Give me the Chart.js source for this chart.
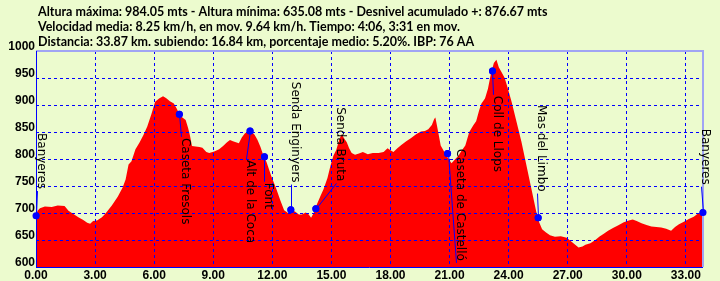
<!DOCTYPE html>
<html>
<head>
<meta charset="utf-8">
<script src="https://cdn.jsdelivr.net/npm/chart.js@4.4.1/dist/chart.umd.min.js"></script>
<style>
html, body { margin: 0; padding: 0; background: #ecfbce; }
#wrap { width: 720px; height: 281px; }
</style>
</head>
<body>
<div id="wrap"><canvas id="profile" width="720" height="281"></canvas></div>
<script>
// PROFILE DATA (km, metres)
const distKm = [0.00, 0.08, 0.20, 0.45, 0.80, 1.10, 1.45, 1.65, 1.90, 2.15, 2.40, 2.60, 2.75, 2.90, 3.10, 3.35, 3.55, 3.85,
  4.15, 4.40, 4.55, 4.70, 4.85, 5.05, 5.25, 5.45, 5.65, 5.85, 6.05, 6.25, 6.45, 6.60, 6.80, 7.00, 7.15, 7.25, 7.40, 7.60,
  7.72, 7.82, 7.92, 8.10, 8.30, 8.45, 8.65, 8.80, 9.05, 9.30, 9.50, 9.70, 9.85, 10.00, 10.15, 10.30, 10.45, 10.60, 10.80,
  10.95, 11.10, 11.25, 11.40, 11.55, 11.70, 11.95, 12.20, 12.40, 12.60, 12.80, 13.00, 13.15, 13.35, 13.50, 13.70, 13.85,
  13.97, 14.10, 14.25, 14.45, 14.60, 14.80, 14.95, 15.10, 15.25, 15.40, 15.52, 15.65, 15.78, 15.90, 16.03, 16.20, 16.40,
  16.60, 16.85, 17.10, 17.40, 17.65, 17.85, 18.00, 18.15, 18.35, 18.55, 18.80, 19.05, 19.30, 19.55, 19.75, 19.92, 20.10,
  20.22, 20.28, 20.35, 20.45, 20.55, 20.75, 20.95, 21.10, 21.25, 21.45, 21.60, 21.80, 22.00, 22.20, 22.35, 22.50, 22.62,
  22.80, 22.95, 23.10, 23.25, 23.38, 23.50, 23.65, 23.80, 23.95, 24.15, 24.40, 24.65, 24.90, 25.15, 25.40, 25.55, 25.70,
  25.90, 26.10, 26.35, 26.65, 26.95, 27.15, 27.35, 27.55, 27.75, 27.90, 28.15, 28.40, 28.60, 28.85, 29.05, 29.30, 29.55,
  29.85, 30.10, 30.30, 30.50, 30.75, 31.00, 31.25, 31.50, 31.75, 32.00, 32.25, 32.45, 32.65, 32.90, 33.15, 33.40, 33.65, 33.87];
const elevM = [695, 704, 709, 712, 711, 714, 713, 704, 698, 692, 687, 682, 680, 685, 686, 692, 700, 714,
  730, 747, 762, 790, 796, 818, 830, 844, 860, 882, 906, 912, 916, 913, 907, 903, 893, 885, 878, 872,
  858, 843, 824, 823, 822, 821, 813, 811, 814, 818, 824, 831, 835, 833, 831, 829, 840, 847, 852,
  851, 845, 835, 822, 806, 795, 768, 745, 724, 705, 700, 705, 703, 697, 697, 701, 697,
  691, 700, 715, 732, 744, 765, 787, 806, 817, 836, 846, 838, 831, 820, 811, 808, 810,
  813, 809, 811, 811, 813, 820, 816, 813, 820, 826, 833, 839, 846, 851, 852, 855, 863,
  874, 877, 864, 845, 825, 812, 800, 792, 798, 806, 815, 825, 850, 862, 870, 890, 903,
  912, 930, 958, 978, 984, 970, 960, 950, 932, 906, 869, 832, 789, 746, 703, 683, 670,
  664, 659, 656, 657, 654, 648, 642, 636, 638, 641, 644, 650, 656, 662, 667, 672, 677,
  683, 686, 688, 685, 681, 678, 675, 674, 673, 671, 667, 674, 679, 684, 689, 693, 700, 701];

const xTicks = [0, 3, 6, 9, 12, 15, 18, 21, 24, 27, 30, 33];
const yTicks = [600, 650, 700, 750, 800, 850, 900, 950, 1000];

// WAYPOINTS
const wpNames = ["Banyeres", "Caseta Fresols", "Alt de la Coca", "Font", "Senda Enginyers", "Senda Bruta",
  "Caseta de Castelló", "Coll de Llops", "Mas del Limbo", "Banyeres"];
const wpKm = [0.00, 7.28, 10.87, 11.60, 12.94, 14.21, 20.90, 23.18, 25.50, 33.87];
const wpElev = [695, 883, 852, 804, 706, 708, 810, 963, 691, 701];
// where each vertical label starts (data units)
const wpLabelKm = [0.05, 7.34, 10.66, 11.60, 12.94, 15.23, 21.32, 23.20, 25.46, 33.76];
const wpLabelElev = [848, 839, 798, 756, 943, 896, 819, 917, 900, 856];

const infoLines = [
  "Altura máxima: 984.05 mts - Altura mínima: 635.08 mts - Desnivel acumulado +: 876.67 mts",
  "Velocidad media: 8.25 km/h, en mov. 9.64 km/h. Tiempo: 4:06, 3:31 en mov.",
  "Distancia: 33.87 km. subiendo: 16.84 km, porcentaje medio: 5.20%. IBP: 76 AA"
];

const BG = "#ecfbce";
const BLUE = "#0000ff";
const tickFont = { family: "'Liberation Sans Narrow', 'Liberation Sans', Arial, sans-serif", size: 12, weight: "bold" };

// PLUGINS
const background = {
  id: "background",
  beforeDraw(chart) {
    const ctx = chart.ctx;
    ctx.save();
    ctx.fillStyle = BG;
    ctx.fillRect(0, 0, chart.width, chart.height);
    ctx.restore();
  }
};

const overlay = {
  id: "overlay",
  afterDraw(chart) {
    const ctx = chart.ctx;
    const xs = chart.scales.x, ys = chart.scales.y;
    const area = chart.chartArea;
    ctx.save();

    // top / right frame
    ctx.strokeStyle = "#a0a4f4";
    ctx.lineWidth = 2;
    ctx.beginPath();
    ctx.moveTo(area.left, area.top);
    ctx.lineTo(area.right, area.top);
    ctx.lineTo(area.right, area.bottom);
    ctx.stroke();

    // left / bottom axis lines
    ctx.strokeStyle = BLUE;
    ctx.lineWidth = 1;
    ctx.beginPath();
    ctx.moveTo(area.left + 0.5, area.top);
    ctx.lineTo(area.left + 0.5, area.bottom + 0.5);
    ctx.lineTo(area.right, area.bottom + 0.5);
    ctx.stroke();

    // header text
    ctx.fillStyle = "#000";
    ctx.font = "bold 12.5px Lato, 'DejaVu Sans', sans-serif";
    ctx.textAlign = "left";
    ctx.textBaseline = "alphabetic";
    infoLines.forEach((t, i) => ctx.fillText(t, 38, 16 + i * 15));

    // waypoint labels + connectors
    ctx.font = "12px 'DejaVu Sans', sans-serif";
    for (let i = 0; i < wpNames.length; i++) {
      const px = xs.getPixelForValue(wpKm[i]);
      const py = ys.getPixelForValue(wpElev[i]);
      const lx = xs.getPixelForValue(wpLabelKm[i]);
      const ly = ys.getPixelForValue(wpLabelElev[i]);
      const w = ctx.measureText(wpNames[i]).width;
      const endY = ly > py ? ly - 1 : ly + w + 2;

      ctx.strokeStyle = BLUE;
      ctx.lineWidth = 1;
      ctx.beginPath();
      ctx.moveTo(Math.round(px) + 0.5, py);
      ctx.lineTo(Math.round(lx) + 0.5, endY);
      ctx.stroke();

      ctx.save();
      ctx.translate(Math.round(lx) + 1, ly);
      ctx.rotate(Math.PI / 2);
      ctx.fillStyle = "#000";
      ctx.fillText(wpNames[i], 0, 0);
      ctx.restore();
    }

    // waypoint dots back on top of the grid
    chart.getDatasetMeta(1).data.forEach(pt => pt.draw(ctx, area));
    ctx.restore();
  }
};

// CHART
const ctx = document.getElementById("profile").getContext("2d");

const chart = new Chart(ctx, {
  type: "line",
  data: {
    datasets: [
      {
        label: "Perfil",
        data: distKm.map((d, i) => ({ x: d, y: elevM[i] })),
        backgroundColor: "#ff0000",
        borderWidth: 0,
        pointRadius: 0,
        fill: "start",
        tension: 0,
        order: 2
      },
      {
        type: "scatter",
        label: "Puntos",
        data: wpKm.map((d, i) => ({ x: d, y: wpElev[i] })),
        backgroundColor: BLUE,
        borderColor: BLUE,
        pointRadius: 3.5,
        borderWidth: 0,
        order: 1
      }
    ]
  },
  options: {
    responsive: false,
    animation: false,
    devicePixelRatio: 1,
    layout: { padding: { top: 51, right: 17, left: 0, bottom: 0 } },
    plugins: { legend: { display: false }, tooltip: { enabled: false }, title: { display: false } },
    scales: {
      x: {
        type: "linear",
        min: 0,
        max: 33.87,
        afterFit: s => { s.height = 14; },
        afterBuildTicks: s => { s.ticks = xTicks.map(v => ({ value: v })); },
        ticks: { color: "#000", font: tickFont, padding: 1, maxRotation: 0, autoSkip: false, callback: v => v.toFixed(2) },
        grid: { color: BLUE, lineWidth: 1, drawTicks: false, tickLength: 0, z: 1 },
        border: { display: false, dash: [3, 3] }
      },
      y: {
        min: 600,
        max: 1000,
        afterFit: s => { s.width = 36; },
        afterBuildTicks: s => { s.ticks = yTicks.map(v => ({ value: v })); },
        ticks: { color: "#000", font: tickFont, padding: 1, labelOffset: -4, callback: v => String(v) },
        grid: { color: BLUE, lineWidth: 1, drawTicks: false, tickLength: 0, z: 1 },
        border: { display: false, dash: [3, 3] }
      }
    }
  },
  plugins: [background, overlay]
});
</script>
</body>
</html>
